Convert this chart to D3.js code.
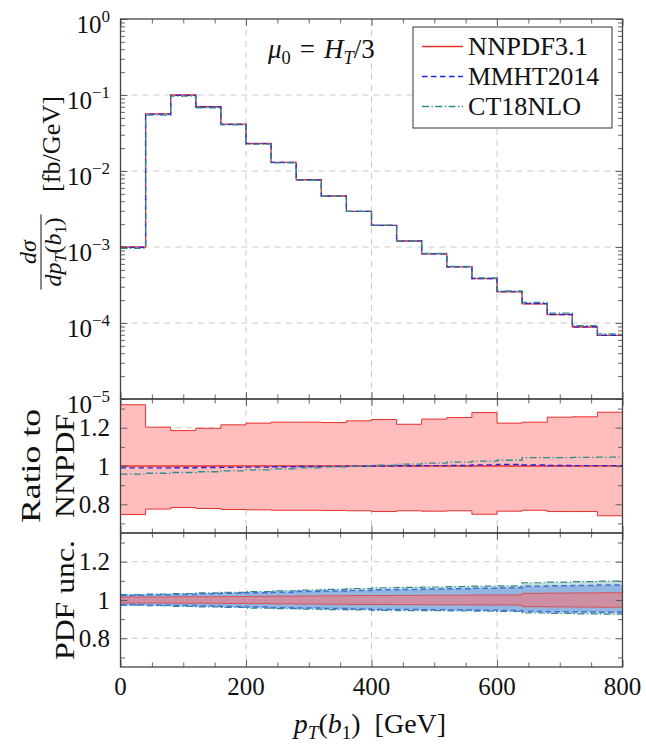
<!DOCTYPE html>
<html>
<head>
<meta charset="utf-8">
<script src="https://cdn.jsdelivr.net/npm/d3@7"></script>
<style>
  html, body { margin: 0; padding: 0; background: #fff; }
  svg text { font-family: "Liberation Serif", "DejaVu Serif", serif; fill: #111; }
</style>
</head>
<body>
<svg id="chart" width="646" height="744"></svg>
<script>
// ---- data: leading b-jet transverse momentum, 40 GeV bins ----
const binEdges = [0, 40, 80, 120, 160, 200, 240, 280, 320, 360, 400,
                  440, 480, 520, 560, 600, 640, 680, 720, 760, 800];

// NNPDF3.1 central prediction, dσ/dpT [fb/GeV]
const xsecNNPDF = [1.0e-3, 0.0566, 0.100, 0.0701, 0.0414, 0.0230, 0.0130, 0.00767,
                   0.00469, 0.00294, 0.00193, 0.00120, 0.00081, 0.000546, 0.000383,
                   0.000256, 0.000179, 0.000129, 8.86e-5, 6.89e-5];

// ratios of the other PDF sets to NNPDF3.1
const ratioMMHT = [0.990, 0.990, 0.991, 0.992, 0.993, 0.994, 0.996, 0.997, 0.998, 0.999,
                   1.000, 1.001, 1.002, 1.003, 1.006, 1.008, 1.005, 1.003, 1.002, 1.002];
const ratioCT18 = [0.958, 0.962, 0.966, 0.970, 0.975, 0.980, 0.985, 0.990, 0.995, 0.999,
                   1.005, 1.010, 1.015, 1.020, 1.025, 1.030, 1.044, 1.044, 1.045, 1.046];

// NNPDF3.1 scale-variation envelope (ratio to central)
const scaleUp   = [1.320, 1.203, 1.185, 1.197, 1.215, 1.224, 1.229, 1.229, 1.227, 1.236,
                   1.243, 1.218, 1.245, 1.253, 1.279, 1.224, 1.229, 1.255, 1.257, 1.281];
const scaleDown = [0.747, 0.775, 0.783, 0.778, 0.773, 0.771, 0.769, 0.769, 0.768, 0.766,
                   0.762, 0.766, 0.764, 0.766, 0.748, 0.764, 0.769, 0.762, 0.762, 0.740];

// PDF uncertainty envelopes (relative)
const pdfNNPDFUp = [1.016, 1.016, 1.017, 1.017, 1.018, 1.019, 1.020, 1.021, 1.022, 1.023,
                    1.023, 1.024, 1.025, 1.025, 1.026, 1.026, 1.035, 1.036, 1.037, 1.038];
const pdfNNPDFDn = [0.984, 0.984, 0.983, 0.983, 0.982, 0.981, 0.980, 0.979, 0.978, 0.977,
                    0.977, 0.976, 0.975, 0.975, 0.974, 0.974, 0.965, 0.964, 0.963, 0.962];
const pdfMMHTUp  = [1.025, 1.027, 1.029, 1.032, 1.035, 1.038, 1.041, 1.044, 1.047, 1.050,
                    1.053, 1.055, 1.057, 1.059, 1.062, 1.064, 1.072, 1.074, 1.076, 1.078];
const pdfMMHTDn  = [0.975, 0.973, 0.971, 0.969, 0.966, 0.963, 0.960, 0.958, 0.955, 0.953,
                    0.951, 0.950, 0.949, 0.948, 0.946, 0.945, 0.940, 0.938, 0.937, 0.936];
const pdfCT18Up  = [1.028, 1.031, 1.034, 1.037, 1.040, 1.044, 1.048, 1.052, 1.056, 1.060,
                    1.064, 1.066, 1.068, 1.070, 1.072, 1.074, 1.090, 1.093, 1.096, 1.099];
const pdfCT18Dn  = [0.973, 0.970, 0.967, 0.964, 0.961, 0.958, 0.955, 0.952, 0.950, 0.948,
                    0.946, 0.945, 0.944, 0.943, 0.942, 0.941, 0.932, 0.930, 0.928, 0.926];

// axis ticks and labels
const xMajor = [0, 200, 400, 600, 800];
const xMinor = [50, 100, 150, 250, 300, 350, 450, 500, 550, 650, 700, 750];
const xGrid  = [200, 400, 600];
const topDecades = [-5, -4, -3, -2, -1, 0];
const ratioMajor = [0.8, 1, 1.2];
const ratioMinor = [0.7, 0.9, 1.1, 1.3];
const ratioLabels = ["0.8", "1", "1.2"];
const legendNames = ["NNPDF3.1", "MMHT2014", "CT18NLO"];

// ---- styles ----
const RED = "#e8302c", BLUE = "#2222e0", TEAL = "#2e8b8b";
const DASH = "5.5,3.5", DASHDOT = "7,2.5,1.3,2.5";
const FS = 25;

const svg = d3.select("#chart");
const x = d3.scaleLinear().domain([0, 800]).range([120.5, 622.5]);
const yTop = d3.scaleLog().domain([1e-5, 1]).range([399, 19]);
const yRat = d3.scaleLinear().domain([0.65, 1.35]).range([533, 399]);
const yPdf = d3.scaleLinear().domain([0.65, 1.35]).range([667, 533]);

const stepPts = vals => {
  const p = vals.map((v, i) => [binEdges[i], v]);
  p.push([binEdges[vals.length], vals[vals.length - 1]]);
  return p;
};
const stepBand = (lo, hi) => {
  const p = lo.map((v, i) => ({ x: binEdges[i], lo: v, hi: hi[i] }));
  p.push({ x: binEdges[lo.length], lo: lo[lo.length - 1], hi: hi[hi.length - 1] });
  return p;
};
const lineOn = y => d3.line().x(d => x(d[0])).y(d => y(d[1])).curve(d3.curveStepAfter);
const areaOn = y => d3.area().x(d => x(d.x)).y0(d => y(d.lo)).y1(d => y(d.hi)).curve(d3.curveStepAfter);

// rich text helper: segments {t, it, sub, sup}
function richText(parent, px, py, segs, anchor, size) {
  const fs = size || FS;
  const t = parent.append("text").attr("x", px).attr("y", py)
    .attr("text-anchor", anchor || "start").style("font-size", fs + "px");
  let shift = 0;
  segs.forEach(s => {
    const target = s.sub ? fs * 0.22 : s.sup ? -fs * 0.44 : 0;
    const sp = t.append("tspan").text(s.t).attr("dy", target - shift);
    shift = target;
    if (s.it) sp.style("font-style", "italic");
    if (s.sub || s.sup) sp.style("font-size", (fs * 0.68) + "px");
  });
  return t;
}

// ---- panels ----
const panels = [
  { y: yTop, top: 19, bottom: 399 },
  { y: yRat, top: 399, bottom: 533 },
  { y: yPdf, top: 533, bottom: 667 }
];

const defs = svg.append("defs");
panels.forEach((p, i) => {
  defs.append("clipPath").attr("id", "clip" + i)
    .append("rect").attr("x", x(0)).attr("y", p.top)
    .attr("width", x(800) - x(0)).attr("height", p.bottom - p.top);
});

// grid lines
const grid = svg.append("g").attr("stroke", "#c4c4c4").attr("stroke-width", 0.9)
  .attr("stroke-dasharray", "6,5").attr("fill", "none");
panels.forEach(p => {
  xGrid.forEach(v => grid.append("line").attr("x1", x(v)).attr("x2", x(v))
    .attr("y1", p.top).attr("y2", p.bottom));
});
topDecades.slice(1, -1).forEach(d => grid.append("line").attr("x1", x(0)).attr("x2", x(800))
  .attr("y1", yTop(Math.pow(10, d))).attr("y2", yTop(Math.pow(10, d))));
[yRat, yPdf].forEach(y => ratioMajor.forEach(v => grid.append("line")
  .attr("x1", x(0)).attr("x2", x(800)).attr("y1", y(v)).attr("y2", y(v))));

// top panel: differential cross sections
const gTop = svg.append("g").attr("clip-path", "url(#clip0)").attr("fill", "none");
const xsecMMHT = xsecNNPDF.map((v, i) => v * ratioMMHT[i]);
const xsecCT18 = xsecNNPDF.map((v, i) => v * ratioCT18[i]);
gTop.append("path").attr("d", lineOn(yTop)(stepPts(xsecNNPDF))).attr("stroke", RED).attr("stroke-width", 1.3);
gTop.append("path").attr("d", lineOn(yTop)(stepPts(xsecMMHT))).attr("stroke", BLUE).attr("stroke-width", 1.3)
  .attr("stroke-dasharray", DASH);
gTop.append("path").attr("d", lineOn(yTop)(stepPts(xsecCT18))).attr("stroke", TEAL).attr("stroke-width", 1.3)
  .attr("stroke-dasharray", DASHDOT);

// ratio panel
const gRat = svg.append("g").attr("clip-path", "url(#clip1)").attr("fill", "none");
gRat.append("path").attr("d", areaOn(yRat)(stepBand(scaleDown, scaleUp)))
  .attr("fill", "#ffb9b9").attr("fill-opacity", 0.95);
gRat.append("path").attr("d", lineOn(yRat)(stepPts(scaleUp))).attr("stroke", RED).attr("stroke-width", 1);
gRat.append("path").attr("d", lineOn(yRat)(stepPts(scaleDown))).attr("stroke", RED).attr("stroke-width", 1);
gRat.append("path").attr("d", lineOn(yRat)(stepPts(xsecNNPDF.map(() => 1)))).attr("stroke", RED).attr("stroke-width", 1.3);
gRat.append("path").attr("d", lineOn(yRat)(stepPts(ratioMMHT))).attr("stroke", BLUE).attr("stroke-width", 1.4)
  .attr("stroke-dasharray", DASH);
gRat.append("path").attr("d", lineOn(yRat)(stepPts(ratioCT18))).attr("stroke", TEAL).attr("stroke-width", 1.3)
  .attr("stroke-dasharray", DASHDOT);

// PDF uncertainty panel
const gPdf = svg.append("g").attr("clip-path", "url(#clip2)").attr("fill", "none");
gPdf.append("path").attr("d", areaOn(yPdf)(stepBand(pdfCT18Dn, pdfCT18Up)))
  .attr("fill", "#9cc9c2").attr("fill-opacity", 0.6);
gPdf.append("path").attr("d", areaOn(yPdf)(stepBand(pdfMMHTDn, pdfMMHTUp)))
  .attr("fill", "#7ea4e2").attr("fill-opacity", 0.7);
gPdf.append("path").attr("d", areaOn(yPdf)(stepBand(pdfNNPDFDn, pdfNNPDFUp)))
  .attr("fill", "#ff6f6f").attr("fill-opacity", 0.55);
[[pdfCT18Up, TEAL, DASHDOT, 1.2], [pdfCT18Dn, TEAL, DASHDOT, 1.2],
 [pdfMMHTUp, "#3f6fe0", DASH, 1.5], [pdfMMHTDn, "#3f6fe0", DASH, 1.5],
 [pdfNNPDFUp, RED, null, 0.7], [pdfNNPDFDn, RED, null, 0.7]].forEach(([vals, c, dash, w]) => {
  const pth = gPdf.append("path").attr("d", lineOn(yPdf)(stepPts(vals)))
    .attr("stroke", c).attr("stroke-width", w);
  if (dash) pth.attr("stroke-dasharray", dash);
});

// ---- ticks (pointing inward) and frames ----
function ticks(axisGen, transform, vals, len) {
  const g = svg.append("g").attr("transform", transform)
    .call(axisGen.tickValues(vals).tickSize(-len).tickFormat(""));
  g.select(".domain").remove();
  g.selectAll("line").attr("stroke", "#555").attr("stroke-width", 0.9);
}
panels.forEach(p => {
  ticks(d3.axisBottom(x), `translate(0,${p.bottom})`, xMajor, 7);
  ticks(d3.axisBottom(x), `translate(0,${p.bottom})`, xMinor, 4.5);
  ticks(d3.axisTop(x), `translate(0,${p.top})`, xMajor, 7);
  ticks(d3.axisTop(x), `translate(0,${p.top})`, xMinor, 4.5);
});
const topMajor = topDecades.map(d => Math.pow(10, d));
const topMinor = [];
topDecades.slice(0, -1).forEach(d => [2, 3, 4, 5, 6, 7, 8, 9].forEach(m => topMinor.push(m * Math.pow(10, d))));
[[yTop, topMajor, topMinor], [yRat, ratioMajor, ratioMinor], [yPdf, ratioMajor, ratioMinor]].forEach(([y, maj, mn]) => {
  ticks(d3.axisLeft(y), `translate(${x(0)},0)`, maj, 7);
  ticks(d3.axisLeft(y), `translate(${x(0)},0)`, mn, 4.5);
  ticks(d3.axisRight(y), `translate(${x(800)},0)`, maj, 7);
  ticks(d3.axisRight(y), `translate(${x(800)},0)`, mn, 4.5);
});
panels.forEach(p => {
  svg.append("rect").attr("x", x(0)).attr("y", p.top).attr("width", x(800) - x(0))
    .attr("height", p.bottom - p.top).attr("fill", "none").attr("stroke", "#444").attr("stroke-width", 1.3);
});

// ---- tick labels ----
const labels = svg.append("g");
topDecades.forEach(d => {
  const t = richText(labels, 110, yTop(Math.pow(10, d)) + 13.5,
    [{ t: "10" }, { t: d < 0 ? "\u2212" + (-d) : String(d), sup: true }], "end");
  t.selectAll("tspan").filter((_, i) => i === 1).attr("dy", -11);
});
[yRat, yPdf].forEach(y => ratioMajor.forEach((v, i) => {
  labels.append("text").attr("x", 110).attr("y", y(v) + 8.5).attr("text-anchor", "end")
    .style("font-size", FS + "px").text(ratioLabels[i]);
}));
xMajor.forEach(v => {
  labels.append("text").attr("x", x(v)).attr("y", 695).attr("text-anchor", "middle")
    .style("font-size", FS + "px").text(v);
});

// ---- axis titles ----
richText(svg, 370, 733, [{ t: "p", it: true }, { t: "T", it: true, sub: true }, { t: "(" },
  { t: "b", it: true }, { t: "1", sub: true }, { t: ")\u2002[GeV]" }], "middle", 28);

const yl = svg.append("g").attr("transform", "translate(60,200) rotate(-90)");
richText(yl, 8, 0, [{ t: "[fb/GeV]" }], "start")
  .attr("textLength", 96).attr("lengthAdjust", "spacingAndGlyphs");
richText(yl, -52, -24, [{ t: "d", it: true }, { t: "\u03c3", it: true }], "middle", 24);
const den = richText(yl, -52, 1, [{ t: "dp", it: true }, { t: "T", it: true, sub: true }, { t: "(" },
  { t: "b", it: true }, { t: "1", sub: true }, { t: ")" }], "middle", 24);
const db = den.node().getBBox();
yl.append("line").attr("x1", db.x - 3).attr("x2", db.x + db.width + 3).attr("y1", -19).attr("y2", -19)
  .attr("stroke", "#111").attr("stroke-width", 1);

const rl = svg.append("g").attr("transform", "translate(0,466) rotate(-90)");
rl.append("text").attr("x", 0).attr("y", 40).attr("text-anchor", "middle").style("font-size", "28px")
  .attr("textLength", 114).attr("lengthAdjust", "spacingAndGlyphs").text("Ratio to");
rl.append("text").attr("x", 0).attr("y", 74).attr("text-anchor", "middle").style("font-size", "28px")
  .attr("textLength", 104).attr("lengthAdjust", "spacingAndGlyphs").text("NNPDF");
const pl = svg.append("g").attr("transform", "translate(0,600) rotate(-90)");
pl.append("text").attr("x", 0).attr("y", 74).attr("text-anchor", "middle").style("font-size", "28px")
  .attr("textLength", 120).attr("lengthAdjust", "spacingAndGlyphs").text("PDF unc.");

// scale choice annotation
richText(svg, 268, 58, [{ t: "\u03bc", it: true }, { t: "0", sub: true }, { t: "\u2004=\u2004" },
  { t: "H", it: true }, { t: "T", it: true, sub: true }, { t: "/3" }], "start", 27);

// ---- legend ----
const lg = svg.append("g");
lg.append("rect").attr("x", 413).attr("y", 27).attr("width", 199).attr("height", 101)
  .attr("fill", "#fff").attr("stroke", "#333").attr("stroke-width", 1);
const legendStyles = [[RED, null], [BLUE, DASH], [TEAL, DASHDOT]];
const legendWidths = [120, 131, 113];
legendNames.forEach((name, i) => {
  const cy = 46.5 + i * 30;
  const ln = lg.append("line").attr("x1", 422).attr("x2", 463).attr("y1", cy).attr("y2", cy)
    .attr("stroke", legendStyles[i][0]).attr("stroke-width", 1.3);
  if (legendStyles[i][1]) ln.attr("stroke-dasharray", legendStyles[i][1]);
  lg.append("text").attr("x", 468).attr("y", cy + 8.5).style("font-size", FS + "px")
    .attr("textLength", legendWidths[i]).attr("lengthAdjust", "spacingAndGlyphs").text(name);
});
</script>
</body>
</html>
